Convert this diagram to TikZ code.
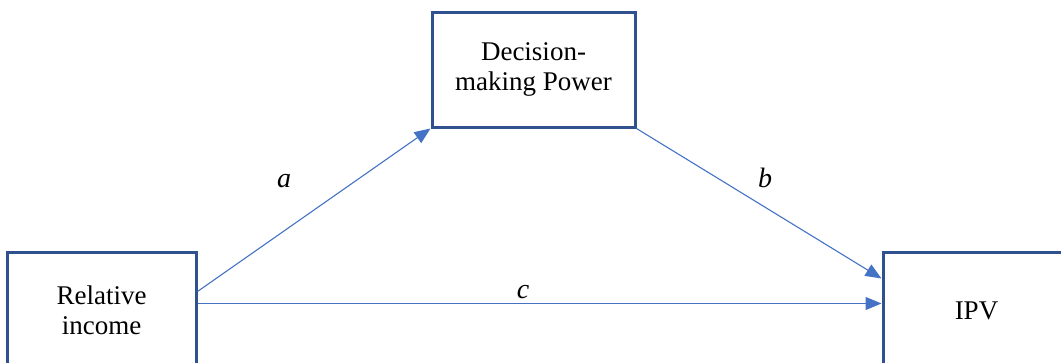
\documentclass[tikz,border=0pt]{standalone}
\usepackage{fontspec}
\setmainfont{Liberation Serif}
\usetikzlibrary{arrows.meta,calc}
\definecolor{boxblue}{HTML}{2F528F}
\definecolor{lineblue}{HTML}{4472C4}
\tikzset{
  varbox/.style={draw=boxblue, line width=3pt, fill=white, inner sep=0pt, align=center,
    font=\fontsize{27}{30}\selectfont},
  path/.style={draw=lineblue, line width=1.1pt, -{Triangle[length=16pt,width=13pt]}},
  coef/.style={font=\fontsize{28}{30}\selectfont\itshape, inner sep=0pt, anchor=base}
}
\begin{document}
\begin{tikzpicture}[x=1pt,y=-1pt]
\useasboundingbox (0,0) rectangle (1061,362);
\clip (0,0) rectangle (1061,362);
\node[varbox, minimum width=203pt, minimum height=115pt] (T) at (533.5,69.5) {Decision-\\making Power};
\node[varbox, minimum width=189pt, minimum height=116pt] (L) at (101.5,310) {Relative\\income};
\node[varbox, minimum width=187pt, minimum height=118pt] (R) at (976.5,311) {IPV};
\coordinate (La) at ($(L.north east)+(0,41)$);
\coordinate (Lc) at ($(L.north east)+(0,53)$);
\coordinate (Rb) at ($(R.north west)+(0,28)$);
\draw[path] (La) -- (T.south west);
\draw[path] (T.south east) -- (Rb);
\draw[path] (Lc) -- (Lc -| R.west);
\node[coef] (a) at (284,187) {a};
\node[coef] (b) at (765,187) {b};
\node[coef] (c) at (523,298) {c};
\end{tikzpicture}
\end{document}
